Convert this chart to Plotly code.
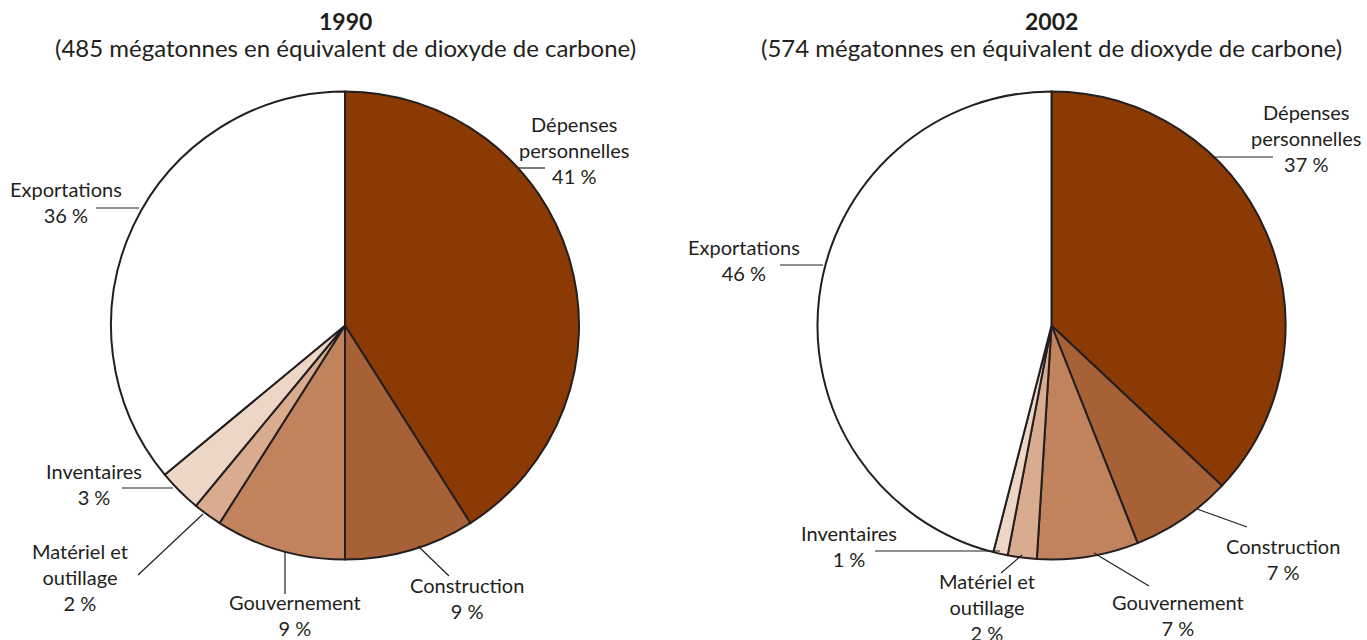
import plotly.graph_objects as go

W, H = 1367, 640

categories = ["Dépenses personnelles", "Construction", "Gouvernement",
              "Matériel et outillage", "Inventaires", "Exportations"]
label_text = ["Dépenses<br>personnelles", "Construction", "Gouvernement",
              "Matériel et<br>outillage", "Inventaires", "Exportations"]
values_1990 = [41, 9, 9, 2, 3, 36]
values_2002 = [37, 7, 7, 2, 1, 46]
years = ["1990", "2002"]
totals = [485, 574]

colors = ["#8c3a04", "#a86036", "#c0835d", "#d9ac90", "#eed6c7", "#ffffff"]
ink = "#231f20"
FONT = "Lato"
FS = 20
FS_TITLE = 24

# pie geometry (pixels)
R = 234
centers = [(345, 325.5), (1051.5, 325.5)]

# label layout (pixel positions of label centres and leader line ends), in category order
label_pos = [
    [(574, 150), (467, 598), (295, 614.5), (80, 577), (94, 483.5), (66, 202)],
    [(1306, 137.5), (1283, 558.5), (1178, 614.5), (987, 607), (849, 546), (744, 260)],
]
leaders = [
    [((517, 168), (545, 168)), ((418, 546), (449, 576)), ((285, 551), (285, 594)),
     ((203, 514), (138, 575)), ((173, 488), (122, 488)), ((139, 208), (96, 208))],
    [((1215, 157), (1273, 157)), ((1197, 509), (1247, 527)), ((1094, 553), (1149, 586)),
     ((1022, 555), (1001, 573)), ((1000, 551), (875, 551)), ((823, 265), (780, 265))],
]

def px(x):
    return x / W

def py(y):
    return 1 - y / H

fig = go.Figure()
for i, vals in enumerate([values_1990, values_2002]):
    cx, cy = centers[i]
    fig.add_trace(go.Pie(
        labels=categories, values=vals, sort=False, direction="clockwise",
        rotation=0, textinfo="none", hoverinfo="label+percent",
        marker=dict(colors=colors, line=dict(color=ink, width=2)),
        domain=dict(x=[px(cx - R), px(cx + R)], y=[py(cy + R), py(cy - R)]),
        showlegend=False,
    ))

annotations = []
shapes = []
for i, vals in enumerate([values_1990, values_2002]):
    cx, cy = centers[i]
    annotations.append(dict(text=f"<b>{years[i]}</b>", x=px(cx), y=py(21),
                            xref="paper", yref="paper", showarrow=False,
                            xanchor="center", yanchor="middle",
                            font=dict(family=FONT, size=FS_TITLE - 1, color=ink)))
    annotations.append(dict(text=f"({totals[i]} mégatonnes en équivalent de dioxyde de carbone)",
                            x=px(cx), y=py(47), xref="paper", yref="paper",
                            showarrow=False, xanchor="center", yanchor="middle",
                            font=dict(family=FONT, size=FS_TITLE, color=ink)))
    for j, v in enumerate(vals):
        lx, ly = label_pos[i][j]
        annotations.append(dict(text=f"{label_text[j]}<br>{v} %", x=px(lx), y=py(ly),
                                xref="paper", yref="paper", showarrow=False,
                                xanchor="center", yanchor="middle", align="center",
                                font=dict(family=FONT, size=FS, color=ink)))
        (x0, y0), (x1, y1) = leaders[i][j]
        shapes.append(dict(type="line", xref="paper", yref="paper",
                           x0=px(x0), y0=py(y0), x1=px(x1), y1=py(y1),
                           line=dict(color=ink, width=1.2)))

fig.update_layout(width=W, height=H, margin=dict(l=0, r=0, t=0, b=0),
                  paper_bgcolor="white", plot_bgcolor="white",
                  annotations=annotations, shapes=shapes)

fig.write_html("out.html", config={"displayModeBar": False},
               post_script="document.body.style.margin='0';document.body.style.overflow='hidden';")
